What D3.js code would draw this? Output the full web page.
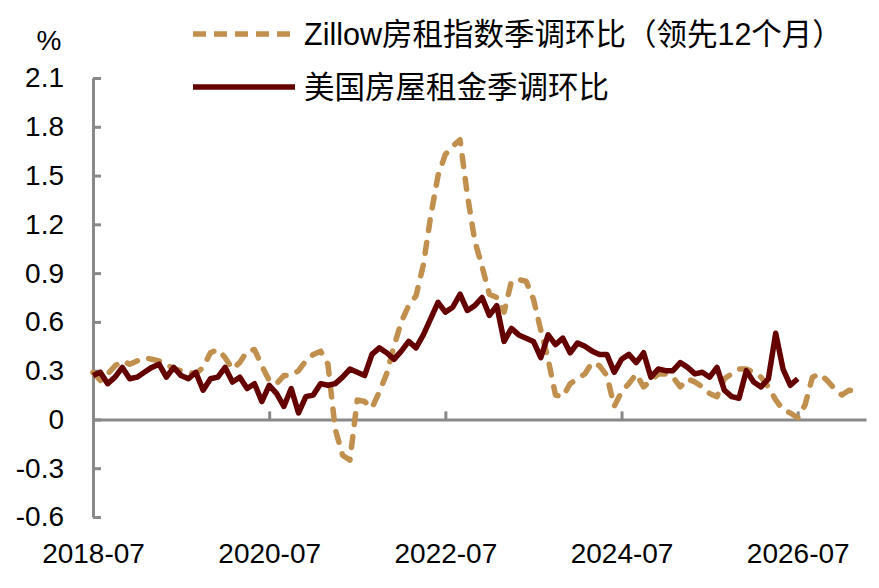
<!DOCTYPE html>
<html>
  <head>
    <meta http-equiv="Content-Type" content="text/html; charset=utf-8">
    <title>Zillow rent vs US rent</title>
    <script src="https://d3js.org/d3.v7.min.js"></script>
    <style>
      body { margin: 0; background: #ffffff; }
      svg text { font-family: "Liberation Sans", Arial, "Noto Sans CJK SC", sans-serif; fill: #000000; }
    </style>
  </head>
  <body>
    <div id="chart_area"></div>
    <script>
    // monthly index, month 0 = 2018-07
    var tickIndex = [0, 24, 48, 72, 96];
    var tickLabels = ["2018-07", "2020-07", "2022-07", "2024-07", "2026-07"];
    var yTicks = [-0.6, -0.3, 0, 0.3, 0.6, 0.9, 1.2, 1.5, 1.8, 2.1];

    var seriesNames = ["Zillow房租指数季调环比（领先12个月）", "美国房屋租金季调环比"];

    // Zillow, seasonally adjusted m/m, shifted 12 months ahead (2018-07 .. 2027-03)
    var zillow = [
      0.29, 0.24, 0.28, 0.33, 0.36, 0.34, 0.36, 0.38, 0.37, 0.36,
      0.34, 0.31, 0.30, 0.29, 0.28, 0.32, 0.41, 0.43, 0.38, 0.31,
      0.35, 0.42, 0.43, 0.33, 0.24, 0.22, 0.27, 0.27, 0.30, 0.36,
      0.40, 0.42, 0.34, -0.06, -0.22, -0.25, 0.12, 0.11, 0.07, 0.17,
      0.28, 0.45, 0.60, 0.70, 0.76, 0.95, 1.25, 1.50, 1.63, 1.68,
      1.72, 1.38, 1.10, 0.94, 0.77, 0.75, 0.66, 0.85, 0.86, 0.85,
      0.74, 0.55, 0.37, 0.15, 0.14, 0.22, 0.25, 0.28, 0.35, 0.33,
      0.27, 0.08, 0.17, 0.22, 0.28, 0.20, 0.24, 0.28, 0.28, 0.26,
      0.20, 0.25, 0.23, 0.20, 0.16, 0.14, 0.25, 0.28, 0.31, 0.31,
      0.29, 0.26, 0.20, 0.12, 0.06, 0.04, 0.01, 0.09, 0.26, 0.28,
      0.24, 0.19, 0.15, 0.18, 0.17
    ];

    // US rent of primary residence, seasonally adjusted m/m (2018-07 .. 2026-07)
    var usRent = [
      0.27, 0.29, 0.22, 0.26, 0.32, 0.25, 0.26, 0.29, 0.32, 0.34,
      0.26, 0.32, 0.27, 0.25, 0.29, 0.18, 0.25, 0.26, 0.32, 0.23,
      0.26, 0.19, 0.22, 0.11, 0.21, 0.16, 0.08, 0.19, 0.04, 0.14,
      0.15, 0.22, 0.21, 0.22, 0.26, 0.31, 0.29, 0.27, 0.40, 0.44,
      0.41, 0.37, 0.42, 0.48, 0.44, 0.52, 0.62, 0.72, 0.66, 0.69,
      0.77, 0.67, 0.70, 0.75, 0.64, 0.70, 0.48, 0.56, 0.52, 0.50,
      0.48, 0.38, 0.52, 0.46, 0.50, 0.41, 0.47, 0.45, 0.42, 0.40,
      0.40, 0.29, 0.37, 0.40, 0.35, 0.41, 0.26, 0.31, 0.30, 0.30,
      0.35, 0.32, 0.28, 0.29, 0.26, 0.32, 0.18, 0.14, 0.13, 0.30,
      0.23, 0.20, 0.25, 0.53, 0.31, 0.21, 0.25
    ];

    var zillowColor = "#C18F4E";
    var rentColor = "#650000";
    var axisColor = "#898989";

    var width = 879, height = 588;

    var svg = d3.select("#chart_area")
      .append("svg")
        .attr("width", width)
        .attr("height", height);

    // scales
    var x = d3.scaleLinear()
      .domain([0, 105.3])
      .range([93, 866]);

    var y = d3.scaleLinear()
      .domain([-0.6, 2.1])
      .range([517, 78]);

    // y axis, ticks point inward
    var yAxis = svg.append("g")
      .attr("transform", "translate(" + x(0) + ",0)")
      .call(d3.axisLeft(y)
        .tickValues(yTicks)
        .tickSizeInner(-8)
        .tickSizeOuter(0)
        .tickPadding(29)
        .tickFormat(function(d) { return d === 0 ? "0" : d.toFixed(1); }));

    // x axis sits on zero, ticks point up
    var xAxis = svg.append("g")
      .attr("transform", "translate(0," + y(0) + ")")
      .call(d3.axisBottom(x)
        .tickValues(tickIndex)
        .tickSizeInner(-8)
        .tickSizeOuter(0)
        .tickPadding(124)
        .tickFormat(function(d, i) { return tickLabels[i]; }));

    [yAxis, xAxis].forEach(function(g) {
      g.select(".domain").attr("stroke", axisColor).attr("stroke-width", 3);
      g.selectAll(".tick line").attr("stroke", axisColor).attr("stroke-width", 3);
      g.selectAll(".tick text").attr("font-size", 28).attr("fill", "#000");
    });

    // unit label
    svg.append("text")
      .attr("x", 49)
      .attr("y", 50)
      .attr("text-anchor", "middle")
      .attr("font-size", 28)
      .text("%");

    // lines
    var line = d3.line()
      .x(function(d, i) { return x(i); })
      .y(function(d) { return y(d); });

    svg.append("path")
      .datum(zillow)
      .attr("fill", "none")
      .attr("stroke", zillowColor)
      .attr("stroke-width", 5.5)
      .attr("stroke-dasharray", "11,12")
      .attr("stroke-linecap", "round")
      .attr("stroke-linejoin", "round")
      .attr("d", line);

    svg.append("path")
      .datum(usRent)
      .attr("fill", "none")
      .attr("stroke", rentColor)
      .attr("stroke-width", 5.5)
      .attr("stroke-linejoin", "round")
      .attr("d", line);

    // legend
    var legend = [
      {name: seriesNames[0], color: zillowColor, dash: "13,8", y: 34},
      {name: seriesNames[1], color: rentColor, dash: null, y: 87}
    ];

    legend.forEach(function(l) {
      svg.append("line")
        .attr("x1", 193).attr("x2", 295)
        .attr("y1", l.y).attr("y2", l.y)
        .attr("stroke", l.color)
        .attr("stroke-width", 5.5)
        .attr("stroke-dasharray", l.dash);
      svg.append("text")
        .attr("x", 304)
        .attr("y", l.y)
        .attr("dominant-baseline", "central")
        .attr("font-size", 30.5)
        .text(l.name);
    });
    </script>
  </body>
</html>
